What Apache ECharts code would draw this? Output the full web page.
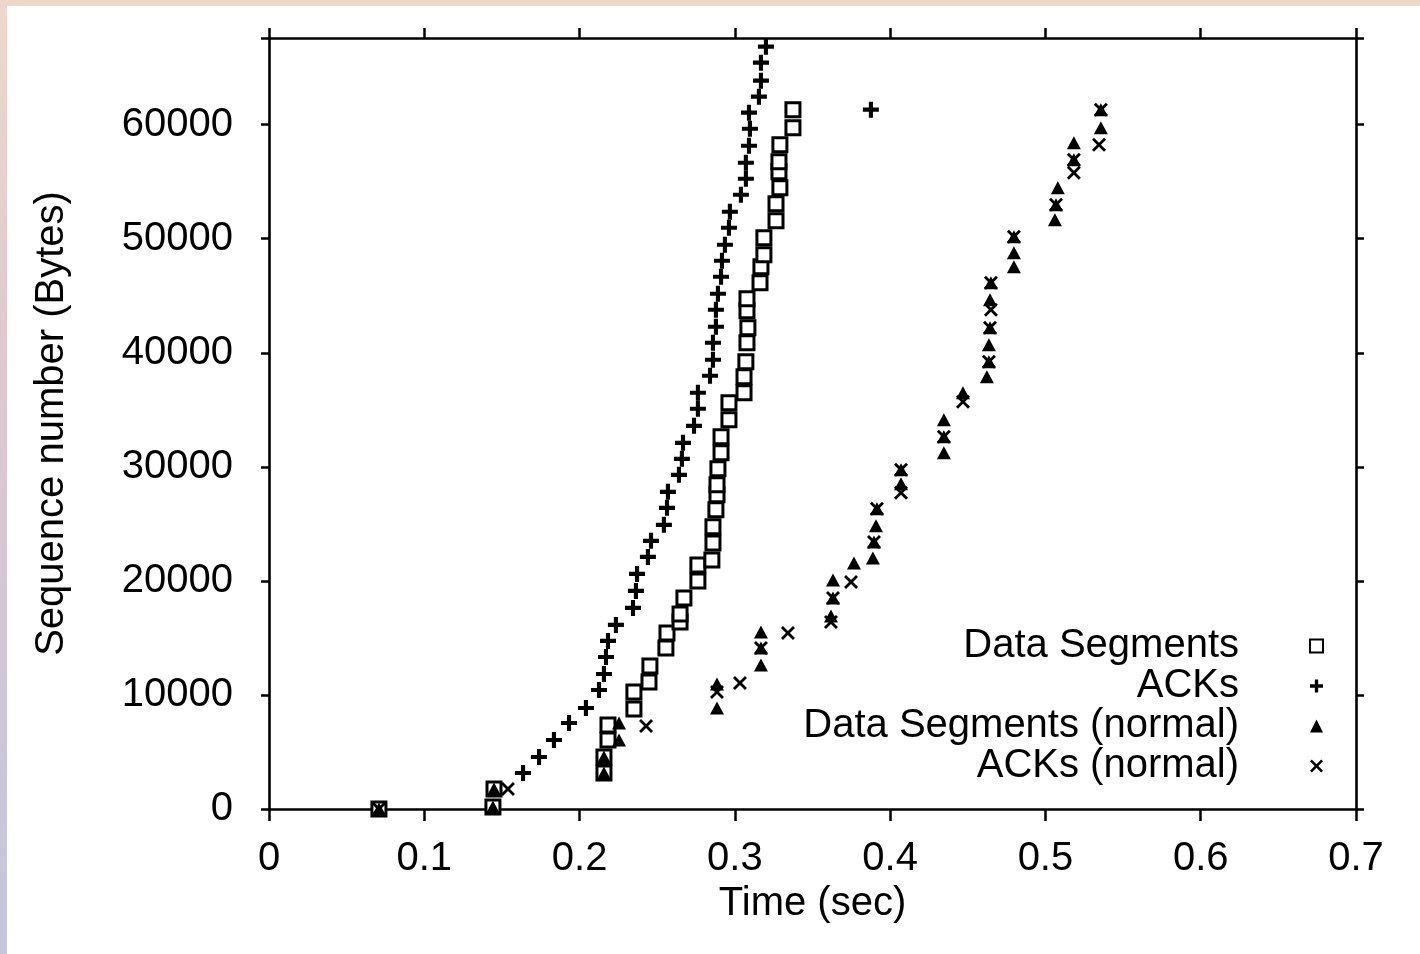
<!DOCTYPE html>
<html><head><meta charset="utf-8">
<script src="https://cdn.jsdelivr.net/npm/echarts@6/dist/echarts.min.js"></script>
<style>
html,body{margin:0;padding:0;width:1420px;height:954px;overflow:hidden;
background:linear-gradient(180deg,#eed8cc 0%,#e0c8cf 35%,#c3c6dc 100%);}
#c{position:absolute;left:7px;top:6px;width:1413px;height:948px;background:#fff;}
</style></head><body><div id="c"></div>
<script>
const seriesNames = ['Data Segments', 'ACKs', 'Data Segments (normal)', 'ACKs (normal)'];
const xTickLabels = ['0', '0.1', '0.2', '0.3', '0.4', '0.5', '0.6', '0.7'];
const yTickLabels = ['0', '10000', '20000', '30000', '40000', '50000', '60000'];
const xAxisTitle = 'Time (sec)';
const yAxisTitle = 'Sequence number (Bytes)';

const dataSegments = [
  [0.0708,0],[0.1442,175],[0.1449,1754],[0.2157,3158],[0.2157,4561],[0.2183,6053],[0.2183,7368],
  [0.2350,8772],[0.2350,10263],[0.2447,11140],[0.2453,12544],[0.2556,14123],[0.2563,15439],
  [0.2647,16404],[0.2647,17105],[0.2672,18509],[0.2762,20000],[0.2762,21404],[0.2852,21842],
  [0.2859,23333],[0.2859,24737],[0.2878,26228],[0.2885,27544],[0.2885,28421],[0.2891,29825],
  [0.2911,31228],[0.2911,32632],[0.2962,34123],[0.2962,35614],[0.3059,36491],[0.3059,37895],
  [0.3071,39211],[0.3078,40877],[0.3084,42193],[0.3078,43684],[0.3078,44737],[0.3162,46140],
  [0.3168,47544],[0.3187,48596],[0.3187,50088],[0.3265,51579],[0.3265,53070],[0.3290,54474],
  [0.3284,55877],[0.3284,56754],[0.3290,58246],[0.3374,59737],[0.3374,61316]
];
const acks = [
  [0.1636,3158],[0.1739,4561],[0.1835,6053],[0.1932,7544],[0.2041,8860],[0.2125,10439],
  [0.2157,11842],[0.2170,13333],[0.2183,14737],[0.2234,16140],[0.2344,17632],[0.2363,19123],
  [0.2370,20614],[0.2440,22105],[0.2460,23509],[0.2543,24912],[0.2563,26404],[0.2569,27807],
  [0.2640,29298],[0.2659,30702],[0.2666,32105],[0.2737,33596],[0.2762,35088],[0.2762,36491],
  [0.2840,37982],[0.2859,39386],[0.2859,40877],[0.2878,42281],[0.2878,43772],[0.2891,45175],
  [0.2911,46667],[0.2917,48070],[0.2936,49474],[0.2962,50965],[0.2968,52368],[0.3039,53860],
  [0.3071,55263],[0.3071,56667],[0.3091,58158],[0.3097,59649],[0.3091,61053],[0.3155,62456],
  [0.3168,63860],[0.3168,65439],[0.3200,66842],[0.3876,61316]
];
const dataSegmentsNormal = [
  [0.0708,0],[0.1442,175],[0.1449,1754],[0.2157,3158],[0.2157,4561],[0.2254,6053],[0.2254,7544],
  [0.2885,8860],[0.2885,10965],[0.3168,12632],[0.3168,14123],[0.3168,15526],[0.3619,16930],
  [0.3632,18509],[0.3632,20088],[0.3767,21579],[0.3889,22018],[0.3896,23421],[0.3909,24825],
  [0.3915,26316],[0.4070,28509],[0.4070,29737],[0.4346,31228],[0.4346,32632],[0.4346,34123],
  [0.4469,36491],[0.4623,37895],[0.4636,39211],[0.4636,40702],[0.4643,42193],[0.4643,44649],
  [0.4649,46140],[0.4797,47544],[0.4797,48772],[0.4797,50175],[0.5061,51667],[0.5068,52982],
  [0.5080,54474],[0.5183,56930],[0.5183,58421],[0.5357,59737],[0.5357,61316]
];
const acksNormal = [
  [0.0708,0],[0.1539,1754],[0.2428,7281],[0.2885,10263],[0.3033,11053],[0.3168,14123],
  [0.3342,15439],[0.3619,16404],[0.3632,18509],[0.3748,19912],[0.3896,23421],[0.3915,26316],
  [0.4070,27719],[0.4070,29737],[0.4346,32632],[0.4469,35702],[0.4636,39211],[0.4643,42193],
  [0.4649,43772],[0.4649,46140],[0.4797,50175],[0.5068,52982],[0.5183,56930],[0.5183,55789],
  [0.5345,58246],[0.5357,61316]
];

const FONT = '"Liberation Sans", Arial, Helvetica, sans-serif';
const PLUS = 'path://M5.2,0H8.8V5.2H14V8.8H8.8V14H5.2V8.8H0V5.2H5.2Z';
const CROSS = 'path://M0,2L2,0L7,5L12,0L14,2L9,7L14,12L12,14L7,9L2,14L0,12L5,7Z';

const chart = echarts.init(document.getElementById('c'), null, {renderer: 'canvas'});
const axisLine = {show: true, onZero: false, lineStyle: {color: '#000', width: 2.6}};
const labelStyle = {color: '#000', fontSize: 40, fontFamily: FONT};

chart.setOption({
  animation: false,
  backgroundColor: '#fff',
  grid: {left: 262, right: 64, top: 32, bottom: 145, containLabel: false},
  xAxis: [
    {type: 'value', position: 'bottom', min: 0, max: 0.7, interval: 0.1,
     axisLine: axisLine, splitLine: {show: false},
     axisTick: {show: true, length: 12, lineStyle: {color: '#000', width: 2.5}},
     axisLabel: Object.assign({margin: 30, formatter: v => xTickLabels[Math.round(v * 10)] || ''}, labelStyle),
     name: xAxisTitle, nameLocation: 'middle', nameGap: 74,
     nameTextStyle: {color: '#000', fontSize: 40, fontFamily: FONT}},
    {type: 'value', position: 'top', min: 0, max: 0.7, interval: 0.1,
     axisLine: axisLine, splitLine: {show: false},
     axisTick: {show: true, length: 10, lineStyle: {color: '#000', width: 2.5}},
     axisLabel: {show: false}}
  ],
  yAxis: [
    {type: 'value', position: 'left', min: 0, max: 67600, interval: 10000,
     axisLine: axisLine, splitLine: {show: false},
     axisTick: {show: true, length: 8, lineStyle: {color: '#000', width: 2.5}},
     axisLabel: Object.assign({margin: 36, formatter: v => (v % 10000 === 0 ? (yTickLabels[v / 10000] || '') : '')}, labelStyle),
     name: yAxisTitle, nameLocation: 'middle', nameGap: 197,
     nameTextStyle: {color: '#000', fontSize: 40, fontFamily: FONT}},
    {type: 'value', position: 'right', min: 0, max: 67600, interval: 10000,
     axisLine: axisLine, splitLine: {show: false},
     axisTick: {show: true, length: 8, lineStyle: {color: '#000', width: 2.5}},
     axisLabel: {show: false}}
  ],
  legend: {
    orient: 'vertical', align: 'right', right: 91, top: 615,
    itemWidth: 13, itemHeight: 13, itemGap: 0,
    textStyle: {color: '#000', fontSize: 40, fontFamily: FONT, lineHeight: 40, padding: [0, 66, 0, 0]},
    data: seriesNames.map(n => ({name: n}))
  },
  series: [
    {name: seriesNames[0], type: 'scatter', data: dataSegments, symbol: 'rect', symbolSize: 14,
     itemStyle: {color: '#fff', borderColor: '#000', borderWidth: 3, opacity: 1}, z: 2},
    {name: seriesNames[1], type: 'scatter', data: acks, symbol: PLUS, symbolSize: 16,
     itemStyle: {color: '#000', opacity: 1}, z: 3},
    {name: seriesNames[2], type: 'scatter', data: dataSegmentsNormal, symbol: 'triangle', symbolSize: [14, 13],
     itemStyle: {color: '#000', opacity: 1}, z: 4},
    {name: seriesNames[3], type: 'scatter', data: acksNormal, symbol: CROSS, symbolSize: 14,
     itemStyle: {color: '#000', opacity: 1}, z: 5}
  ]
});
</script></body></html>
